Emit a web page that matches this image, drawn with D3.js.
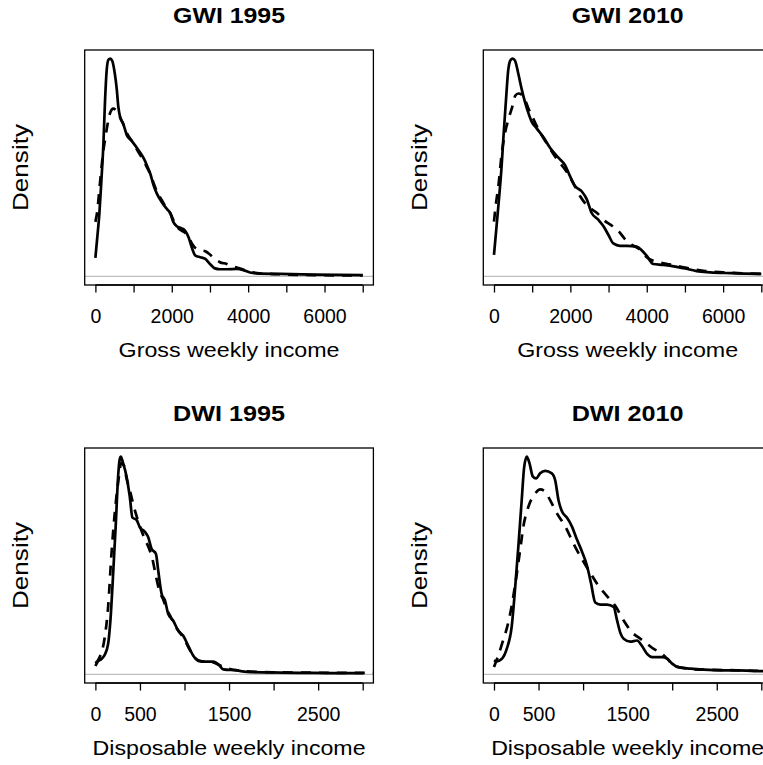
<!DOCTYPE html>
<html>
<head>
<meta charset="utf-8">
<script src="https://cdn.jsdelivr.net/npm/d3@7"></script>
<style>
  body { margin: 0; background: #fff; }
  svg { display: block; }
  text { font-family: "Liberation Sans", Arial, Helvetica, sans-serif; fill: #000; }
</style>
</head>
<body>
<svg id="chart" width="763" height="765"></svg>
<script>
// Weekly income grids ($) and kernel density estimates (density x 10^4)

// Gross weekly income, 1995
const gwi1995SolidX = [0,50,105,157,210,253,297,340,390,440,510,560,600,650,730,820,960,1130,1270,1350,1440,1520,1610,1740,1870,1960,2040,2130,2260,2350,2440,2530,2620,2750,2880,3000,3130,3260,3440,3700,3880,4050,4230,4840,5710,7000];
const gwi1995SolidY = [0.63,1.33,2.15,3.26,4.51,5.99,7.03,7.36,7.40,7.33,6.88,6.36,5.77,5.40,5.18,4.81,4.59,4.29,4.00,3.77,3.48,3.11,2.81,2.52,2.29,2.15,1.85,1.70,1.63,1.55,1.33,0.96,0.70,0.65,0.59,0.42,0.27,0.24,0.24,0.25,0.21,0.13,0.10,0.08,0.06,0.04];
const gwi1995DashedX = [0,50,105,160,210,253,300,384,470,560,650,730,820,960,1130,1270,1350,1440,1520,1610,1740,1870,1960,2040,2130,2260,2350,2440,2530,2620,2750,2880,3000,3130,3260,3440,3600,3700,3880,4050,4230,4840,5710,7000];
const gwi1995DashedY = [1.85,2.22,2.96,3.70,4.29,4.66,5.03,5.55,5.70,5.62,5.40,5.18,4.88,4.59,4.22,3.92,3.70,3.48,3.18,2.89,2.59,2.29,2.15,1.92,1.70,1.55,1.48,1.33,1.11,0.96,0.89,0.85,0.74,0.59,0.48,0.42,0.33,0.30,0.22,0.15,0.11,0.07,0.04,0.03];

// Gross weekly income, 2010
const gwi2010SolidX = [0,113,200,244,314,375,437,489,550,637,725,812,899,986,1117,1292,1467,1685,1860,1990,2121,2296,2427,2558,2732,2863,2994,3125,3300,3475,3736,3867,3998,4173,4435,4784,5046,5308,5657,6181,6530,7000];
const gwi2010SolidY = [0.54,1.76,2.79,3.47,4.46,5.23,5.47,5.50,5.45,5.12,4.73,4.40,4.13,3.91,3.74,3.52,3.25,3.00,2.81,2.53,2.28,2.15,1.95,1.60,1.43,1.27,1.05,0.83,0.77,0.77,0.75,0.66,0.52,0.31,0.29,0.24,0.19,0.13,0.10,0.08,0.07,0.06];
const gwi2010DashedX = [0,49,113,200,290,375,480,560,637,725,812,900,986,1117,1380,1641,1903,2100,2252,2470,2700,2863,3100,3300,3430,3600,3800,3998,4170,4347,4600,5000,5483,6000,7000];
const gwi2010DashedY = [1.38,1.82,2.26,3.08,3.63,3.96,4.29,4.57,4.62,4.59,4.46,4.24,4.07,3.80,3.36,2.97,2.64,2.31,2.03,1.76,1.60,1.43,1.27,1.10,0.94,0.80,0.69,0.48,0.39,0.35,0.30,0.22,0.14,0.10,0.06];

// Disposable weekly income, 1995
const dwi1995SolidX = [0,30,68,105,143,169,199,229,255,274,285,311,349,386,416,461,499,555,593,630,679,705,743,780,818,874,930,986,1043,1099,1155,1230,1324,1380,1436,1586,1699,2074,2449,3011];
const dwi1995SolidY = [0.75,1.18,1.38,1.77,2.76,4.93,9.06,13.59,17.93,19.50,19.70,19.11,17.93,16.06,14.18,13.99,13.30,12.90,12.41,11.37,10.91,9.40,7.29,6.70,5.46,4.85,3.94,3.49,2.56,1.67,1.22,1.14,1.14,0.91,0.45,0.35,0.22,0.16,0.12,0.10];
const dwi1995DashedX = [0,50,105,143,180,215,255,290,320,350,390,420,460,500,555,600,640,680,720,760,800,850,900,950,1000,1050,1100,1160,1230,1320,1400,1500,1600,1700,2000,2500,3200];
const dwi1995DashedY = [0.99,1.58,3.35,6.11,10.84,14.38,17.34,19.11,18.91,17.73,16.55,15.56,14.38,13.40,12.21,11.43,10.44,8.87,7.49,6.80,5.91,5.12,4.33,3.74,3.15,2.36,1.67,1.24,1.14,1.08,0.79,0.49,0.35,0.26,0.18,0.14,0.12];

// Disposable weekly income, 2010
const dwi2010SolidX = [0,30,86,143,199,236,274,311,338,368,398,435,473,518,574,649,686,724,761,818,874,930,986,1043,1088,1136,1193,1268,1343,1380,1418,1455,1530,1605,1661,1718,1774,1886,1943,1999,2074,2205,2355,2580,2730,2918,3100];
const dwi2010SolidY = [0.73,0.68,0.80,1.33,2.51,4.45,6.73,9.12,10.83,11.40,11.06,10.37,10.26,10.53,10.66,10.53,10.18,9.12,8.55,8.21,7.75,7.07,6.45,5.70,4.79,3.76,3.65,3.65,3.53,2.85,2.17,1.86,1.71,1.77,1.48,1.07,0.90,0.90,0.82,0.56,0.36,0.30,0.24,0.21,0.21,0.17,0.16];
const dwi2010DashedX = [0,49,105,143,199,248,293,330,386,461,518,574,630,705,799,893,986,1080,1174,1268,1361,1455,1549,1643,1718,1793,1868,1943,2018,2168,2355,2730,3100];
const dwi2010DashedY = [0.38,0.99,1.82,2.39,3.59,5.02,6.50,7.75,8.78,9.46,9.69,9.58,9.12,8.44,7.75,6.84,6.04,5.32,4.63,4.10,3.59,2.82,2.20,1.86,1.60,1.33,1.14,0.82,0.47,0.30,0.24,0.21,0.17];

// Axis ranges, ticks and tick labels
const gwiRange = [0, 7000];
const gwiTicks = [0,1000,2000,3000,4000,5000,6000,7000];
const gwiTickLabels = ["0","","2000","","4000","","6000",""];
const dwiRange = [0, 3000];
const dwiTicks = [0,500,1000,1500,2000,2500,3000];
const dwiTickLabels = ["0","500","","1500","","2500",""];

const titles = ["GWI 1995", "GWI 2010", "DWI 1995", "DWI 2010"];
const xLabels = ["Gross weekly income", "Gross weekly income", "Disposable weekly income", "Disposable weekly income"];
const yLabel = "Density";

const panels = [
  { title: titles[0], xlab: xLabels[0], sx: gwi1995SolidX, sy: gwi1995SolidY, dx: gwi1995DashedX, dy: gwi1995DashedY, range: gwiRange, ticks: gwiTicks, labels: gwiTickLabels, col: 0, row: 0 },
  { title: titles[1], xlab: xLabels[1], sx: gwi2010SolidX, sy: gwi2010SolidY, dx: gwi2010DashedX, dy: gwi2010DashedY, range: gwiRange, ticks: gwiTicks, labels: gwiTickLabels, col: 1, row: 0 },
  { title: titles[2], xlab: xLabels[2], sx: dwi1995SolidX, sy: dwi1995SolidY, dx: dwi1995DashedX, dy: dwi1995DashedY, range: dwiRange, ticks: dwiTicks, labels: dwiTickLabels, col: 0, row: 1 },
  { title: titles[3], xlab: xLabels[3], sx: dwi2010SolidX, sy: dwi2010SolidY, dx: dwi2010DashedX, dy: dwi2010DashedY, range: dwiRange, ticks: dwiTicks, labels: dwiTickLabels, col: 1, row: 1 }
];

// 2 x 2 layout of plot boxes
const colLeft = [84.7, 483.3];
const rowTop = [50, 448];
const boxW = 288.7, boxH = 235;

const svg = d3.select("#chart");

panels.forEach((p, i) => {
  const left = colLeft[p.col], top = rowTop[p.row];
  const right = left + boxW, bottom = top + boxH;
  const cx = left + boxW / 2;

  // 4% padding on each side of the data range
  const [lo, hi] = p.range;
  const padX = 0.04 * (hi - lo);
  const x = d3.scaleLinear().domain([lo - padX, hi + padX]).range([left, right]);
  const ymax = d3.max([...p.sy, ...p.dy]);
  const y = d3.scaleLinear().domain([-0.04 * ymax, 1.04 * ymax]).range([bottom, top]);

  const g = svg.append("g");
  const clipId = "clip" + i;
  g.append("clipPath").attr("id", clipId)
    .append("rect").attr("x", left).attr("y", top).attr("width", boxW).attr("height", boxH);

  const plot = g.append("g").attr("clip-path", `url(#${clipId})`);

  // zero reference line
  plot.append("line")
    .attr("x1", left).attr("x2", right)
    .attr("y1", y(0)).attr("y2", y(0))
    .attr("stroke", "#bebebe").attr("stroke-width", 1.3);

  const line = d3.line().x(d => x(d[0])).y(d => y(d[1])).curve(d3.curveMonotoneX);

  plot.append("path")
    .datum(d3.zip(p.dx, p.dy))
    .attr("d", line)
    .attr("fill", "none").attr("stroke", "#000")
    .attr("stroke-width", 2.7).attr("stroke-dasharray", "10,8")
    .attr("stroke-linejoin", "round");

  plot.append("path")
    .datum(d3.zip(p.sx, p.sy))
    .attr("d", line)
    .attr("fill", "none").attr("stroke", "#000")
    .attr("stroke-width", 2.7).attr("stroke-linejoin", "round");

  // plot box
  g.append("rect")
    .attr("x", left).attr("y", top).attr("width", boxW).attr("height", boxH)
    .attr("fill", "none").attr("stroke", "#000").attr("stroke-width", 1.3);

  // x axis
  const axis = d3.axisBottom(x)
    .tickValues(p.ticks)
    .tickSize(7.5)
    .tickPadding(17)
    .tickFormat((d, k) => p.labels[k]);
  const ag = g.append("g").attr("transform", `translate(0,${bottom})`).call(axis);
  ag.select(".domain").remove();
  ag.selectAll(".tick line").attr("stroke", "#000").attr("stroke-width", 1.3);
  ag.selectAll(".tick text")
    .attr("font-family", "Liberation Sans, Arial, sans-serif")
    .attr("font-size", 19.5).attr("fill", "#000");
  g.append("line")
    .attr("x1", x(p.ticks[0])).attr("x2", x(p.ticks[p.ticks.length - 1]))
    .attr("y1", bottom).attr("y2", bottom)
    .attr("stroke", "#000").attr("stroke-width", 1.3);

  // title
  g.append("text")
    .attr("x", cx).attr("y", top - 26.7)
    .attr("text-anchor", "middle")
    .attr("font-size", 22.5).attr("font-weight", "bold")
    .attr("textLength", 112).attr("lengthAdjust", "spacingAndGlyphs")
    .text(p.title);

  // x label
  g.append("text")
    .attr("x", cx).attr("y", bottom + 71.5)
    .attr("text-anchor", "middle")
    .attr("font-size", 21)
    .attr("textLength", p.range[1] > 5000 ? 221 : 273).attr("lengthAdjust", "spacingAndGlyphs")
    .text(p.xlab);

  // y label
  g.append("text")
    .attr("transform", `translate(${left - 56.5},${top + boxH / 2}) rotate(-90)`)
    .attr("text-anchor", "middle")
    .attr("font-size", 22)
    .attr("textLength", 87).attr("lengthAdjust", "spacingAndGlyphs")
    .text(yLabel);
});
</script>
</body>
</html>
